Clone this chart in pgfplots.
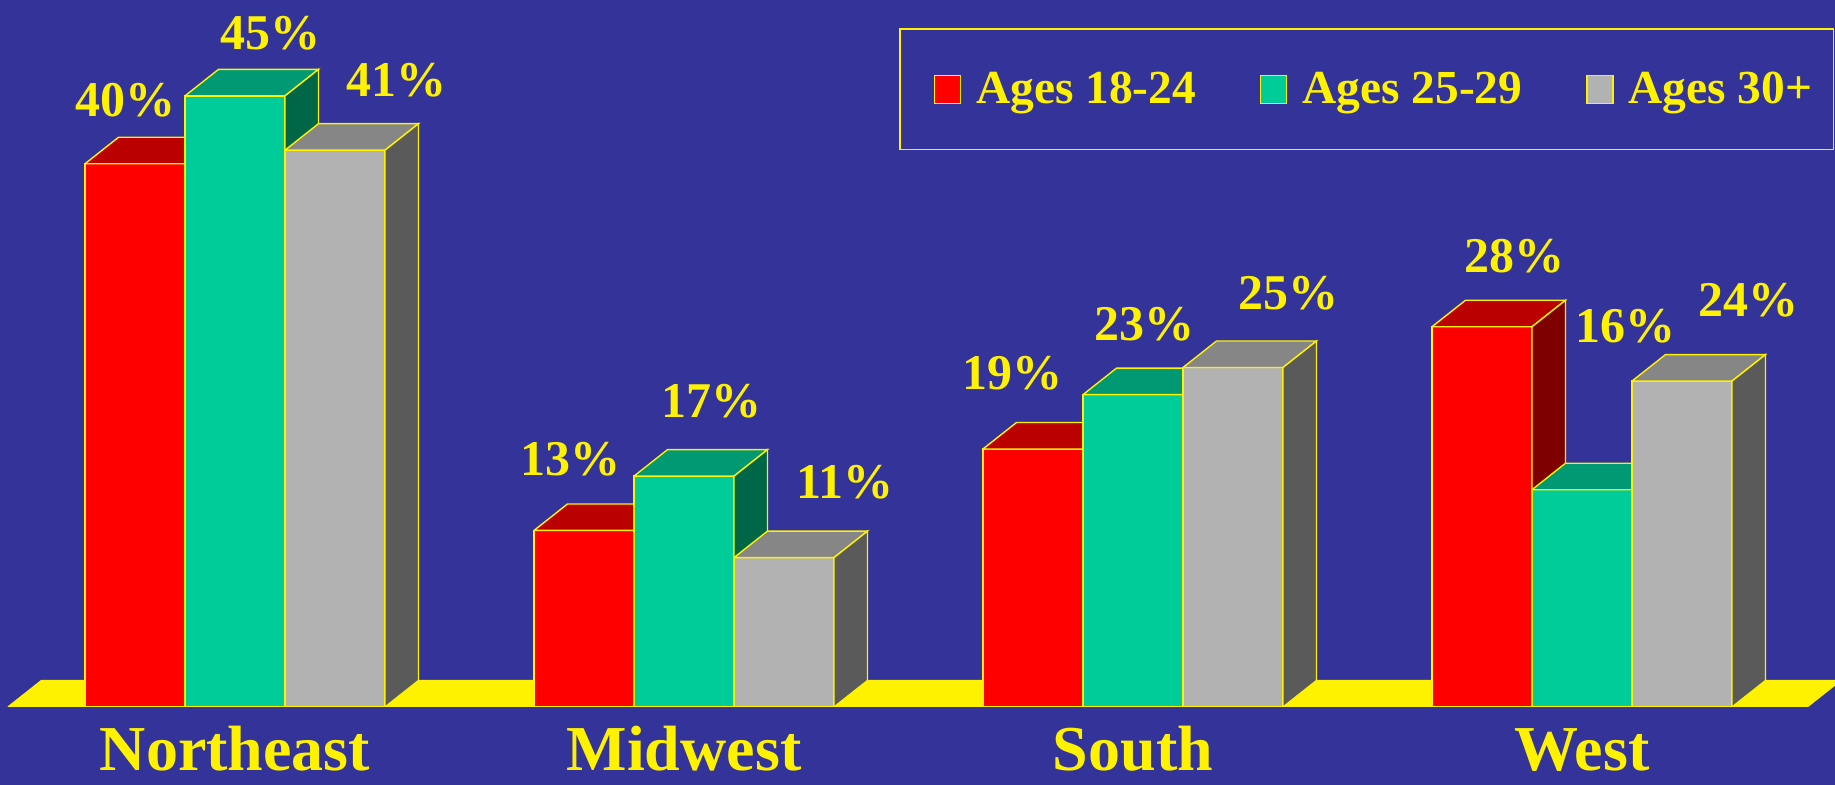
\documentclass[border=0pt]{standalone}
\usepackage{pgfplots}
\usepackage{pgfplotstable}
\pgfplotsset{compat=1.18}
\usepackage{fontspec}
\setmainfont{Liberation Serif}

\definecolor{bgblue}{HTML}{333399}
\definecolor{redfront}{HTML}{FF0000}
\definecolor{redtop}{HTML}{BB0000}
\definecolor{redside}{HTML}{7F0000}
\definecolor{grnfront}{HTML}{00CC99}
\definecolor{grntop}{HTML}{009973}
\definecolor{grnside}{HTML}{006648}
\definecolor{gryfront}{HTML}{B2B2B2}
\definecolor{grytop}{HTML}{868686}
\definecolor{gryside}{HTML}{5A5A5A}

% x = left edge of the front face (px units), v = value (%), lx/ly = label position
\pgfplotstableread{
x    v  lx    ly
85   40 125   44.70
534  13 570   18.23
983  19 1012  24.59
1432 28 1514  33.21
}\redtab
\pgfplotstableread{
x    v  lx    ly
185  45 270   49.59
634  17 711   22.53
1083 23 1144  28.20
1532 16 1625  28.06
}\grntab
\pgfplotstableread{
x    v  lx    ly
285  41 396   46.17
734  11 845   16.57
1183 25 1288  30.49
1632 24 1748  29.97
}\grytab

\pgfplotsset{
  sqlegend/.style={legend image code/.code={%
    \path (-6.5pt,0pt);
    \draw[##1] (0pt,-7pt) rectangle (13pt,7pt);}},
  frontbar/.style={ybar, bar width=100, bar shift=0pt, draw=yellow,
    line width=0.7pt, fill=#1, sqlegend},
}

% top and side faces of the 3D bars, computed from the table values
\newcommand\drawfaces[3]{%
  \pgfplotsinvokeforeach{0,...,3}{%
    \pgfplotstablegetelem{##1}{x}\of#1\edef\xa{\pgfplotsretval}%
    \pgfplotstablegetelem{##1}{v}\of#1\edef\va{\pgfplotsretval}%
    \pgfmathsetmacro\xb{\xa+100}%
    \pgfmathsetmacro\xc{\xa+133.5}%
    \pgfmathsetmacro\xd{\xa+33.5}%
    \pgfmathsetmacro\vb{\va+1.95}%
    \edef\tmp{%
      \noexpand\addplot[forget plot, fill=#2, draw=yellow, line width=0.7pt]
        coordinates {(\xa,\va) (\xb,\va) (\xc,\vb) (\xd,\vb) (\xa,\va)};%
      \noexpand\addplot[forget plot, fill=#3, draw=yellow, line width=0.7pt]
        coordinates {(\xb,0) (\xb,\va) (\xc,\vb) (\xc,1.95) (\xb,0)};%
    }\tmp
  }%
}

\begin{document}
\begin{tikzpicture}
\fill[bgblue] (0pt,-39pt) rectangle (917.5pt,353.5pt);
\useasboundingbox (0pt,-39pt) rectangle (917.5pt,353.5pt);
\begin{axis}[
  at={(0pt,0pt)}, anchor=south west,
  width=917.5pt, height=353.5pt, scale only axis,
  xmin=0, xmax=1835, ymin=0, ymax=52.06,
  axis line style={draw=none}, tick style={draw=none},
  ytick=\empty,
  xtick={235,684,1133,1582},
  xticklabels={Northeast,Midwest,South,West},
  xtick pos=bottom,
  xticklabel style={text=yellow, font=\fontsize{32}{38}\selectfont\bfseries,
    anchor=base, yshift=-32pt},
  legend columns=3,
  legend style={at={(axis cs:899,50.0)}, anchor=north west,
    draw=yellow, line width=0.8pt, fill=bgblue, text=yellow,
    font=\fontsize{23.7}{28}\selectfont\bfseries,
    inner xsep=10.5pt, inner ysep=21.6pt,
    nodes={inner sep=0pt},
    /tikz/every odd column/.append style={column sep=7.5pt},
    /tikz/every even column/.append style={column sep=25.5pt}},
]
% floor
\addplot[forget plot, fill=yellow, draw=yellow, line width=0.7pt]
  coordinates {(8,0) (1807,0) (1840.5,1.95) (41.5,1.95) (8,0)};

\addplot[frontbar=redfront] table[x expr=\thisrow{x}+50, y=v] {\redtab};
\addlegendentry{Ages 18-24}
\drawfaces{\redtab}{redtop}{redside}

\addplot[frontbar=grnfront] table[x expr=\thisrow{x}+50, y=v] {\grntab};
\addlegendentry{Ages 25-29}
\drawfaces{\grntab}{grntop}{grnside}

\addplot[frontbar=gryfront] table[x expr=\thisrow{x}+50, y=v] {\grytab};
\addlegendentry{Ages 30+}
\drawfaces{\grytab}{grytop}{gryside}

% value labels
\pgfplotsset{labelstyle/.style={forget plot, draw=none, mark=none,
  point meta=explicit,
  /pgf/number format/assume math mode=true,
  nodes near coords={\pgfmathprintnumber{\pgfplotspointmeta}\%},
  every node near coord/.append style={text=yellow,
    font=\fontsize{25}{30}\selectfont\bfseries, anchor=center, inner sep=0pt}}}
\addplot[labelstyle] table[x=lx, y=ly, meta=v] {\redtab};
\addplot[labelstyle] table[x=lx, y=ly, meta=v] {\grntab};
\addplot[labelstyle] table[x=lx, y=ly, meta=v] {\grytab};
\end{axis}
\end{tikzpicture}
\end{document}
